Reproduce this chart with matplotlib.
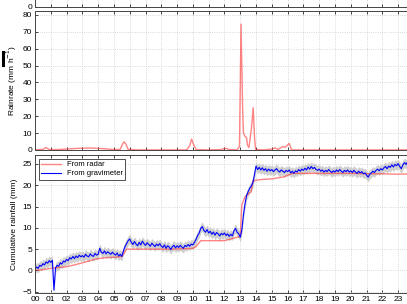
import matplotlib
matplotlib.use('Agg')
from matplotlib import pyplot as plt
from matplotlib.lines import Line2D
import numpy as np

plt.rcParams['font.family'] = ['Liberation Sans', 'DejaVu Sans']

# radar rain rate (mm/h)
rate_t = [0.0, 0.5, 0.7, 0.9, 1.5, 2.0, 2.5, 3.0, 3.5, 4.0, 4.5, 5.0, 5.4, 5.55, 5.65, 5.75, 5.9,
          6.5, 9.6, 9.8, 9.92, 10.05, 10.2, 11.0, 11.8, 12.05, 12.3, 12.8, 12.95, 13.05, 13.15,
          13.2, 13.3, 13.4, 13.45, 13.55, 13.7, 13.82, 13.9, 13.97, 14.5, 15.0, 15.2, 15.4, 15.7,
          15.85, 16.1, 16.25, 24.0]
rate_v = [0.0, 0.3, 1.4, 0.2, 0.2, 0.5, 0.8, 1.0, 1.1, 0.9, 0.6, 0.2, 0.3, 3.5, 4.8, 3.5, 0.3,
          0.0, 0.0, 2.5, 6.4, 3.0, 0.2, 0.0, 0.2, 1.0, 0.2, 0.0, 2.0, 74.6, 25.0,
          10.3, 8.0, 7.3, 3.0, 1.4, 12.0, 25.0, 8.0, 0.3, 0.0, 0.5, 1.2, 0.3, 2.0,
          1.5, 3.8, 0.0, 0.0]

# cumulative rainfall from radar (mm)
radar_t = [0.0, 0.5, 1.0, 1.5, 2.0, 2.5, 3.0, 3.5, 4.0, 4.5, 5.0, 5.5, 5.8, 6.5, 7.5, 8.5,
           9.5, 10.0, 10.2, 10.5, 11.5, 12.0, 12.5, 13.0, 13.1, 13.3, 13.7, 13.8, 14.0, 14.5,
           15.0, 15.8, 16.3, 17.0, 18.0, 19.0, 20.0, 21.0, 22.0, 23.0, 24.0]
radar_cum = [0.0, 0.2, 0.5, 0.7, 0.9, 1.3, 1.8, 2.3, 2.8, 3.0, 3.1, 3.3, 5.0, 5.0, 5.0, 5.0,
             5.1, 5.2, 5.6, 7.0, 7.0, 7.0, 7.5, 8.0, 15.4, 17.3, 18.5, 21.0, 21.2, 21.4,
             21.5, 22.0, 22.8, 22.8, 22.8, 22.8, 22.8, 22.7, 22.7, 22.6, 22.7]

# cumulative rainfall from gravimeter (mm), every 0.1 h
grav_cum = [
    0.3, 0.8, 0.5, 1.2, 1.0, 1.6, 1.3, 2.0, 1.7, 2.3,
    1.9, 2.4, -4.6, 0.6, 1.2, 1.0, 1.8, 1.5, 2.2, 2.0,
    2.6, 2.3, 3.0, 2.7, 3.3, 2.8, 3.4, 3.0, 3.6, 3.2,
    3.5, 3.1, 3.8, 3.4, 3.2, 3.9, 3.5, 3.3, 4.0, 3.6,
    3.8, 5.2, 4.3, 4.0, 4.6, 3.9, 4.4, 4.1, 3.8, 4.3,
    3.9, 3.6, 4.1, 3.4, 3.8, 3.3, 4.6, 5.6, 6.3, 7.0,
    7.4, 6.6, 6.1, 6.8, 6.2, 5.8, 6.6, 6.0, 6.9, 6.3,
    5.9, 6.5, 6.1, 5.7, 6.4, 6.0, 5.6, 6.2, 5.8, 6.3,
    5.7, 5.4, 6.0, 5.2, 5.8, 5.5, 4.9, 5.6, 5.9, 5.3,
    5.8, 5.4, 5.9, 5.5, 5.2, 5.9, 5.6, 6.1, 5.7, 6.2,
    6.0, 6.6, 7.3, 8.2, 8.8, 9.9, 10.3, 9.4, 9.0, 9.6,
    8.8, 9.2, 8.5, 9.0, 8.3, 8.9, 8.6, 8.1, 8.7, 8.4,
    8.8, 8.2, 8.6, 8.0, 8.5, 8.1, 9.3, 9.9, 9.0, 8.6,
    7.8, 9.5, 13.0, 15.6, 17.6, 18.5, 19.3, 19.8, 20.6, 22.5,
    24.5, 23.7, 24.2, 23.6, 24.1, 23.5, 23.9, 23.3, 23.8, 23.4,
    23.7, 23.2, 23.6, 23.9, 23.4, 23.1, 23.6, 23.3, 23.0, 23.5,
    23.2, 23.6, 22.9, 23.3, 22.8, 23.4, 23.1, 23.7, 23.3, 23.8,
    23.5, 24.0, 23.6, 24.3, 23.8, 24.4, 23.9, 24.2, 23.7, 23.5,
    23.8, 23.3, 23.6, 23.1, 23.5, 23.2, 23.7, 23.3, 23.0, 23.4,
    23.1, 23.6, 23.2, 23.7, 23.3, 23.0, 23.5, 23.2, 23.6, 23.1,
    23.4, 23.0, 23.5, 23.1, 22.8, 23.3, 22.9, 23.2, 22.7, 22.9,
    22.4, 21.9, 22.6, 22.9, 23.3, 23.0, 23.5, 23.8, 23.4, 23.9,
    23.6, 24.1, 24.4, 23.9, 24.5, 24.2, 24.8, 24.3, 24.9, 24.6,
    25.1, 24.4, 23.9, 24.8, 25.3, 24.9, 25.5, 25.0, 25.6, 25.2,
    25.4]
grav_t = np.arange(len(grav_cum)) * 0.1
grav_err = 1.1

hour_labels = ['%02d' % h for h in range(24)]

fig = plt.figure(figsize=(4.07, 3.04), dpi=100)

def style(ax):
    ax.set_xlim(0, 24)
    ax.set_xticks(range(24))
    ax.grid(True, color='#cccccc', linestyle=':', linewidth=0.6)
    ax.tick_params(direction='in', top=True, right=True, length=2.5, width=0.5,
                   labelsize=6, pad=2)
    for s in ax.spines.values():
        s.set_linewidth(0.7)
        s.set_color('#444444')

# sliver of the panel above
ax0 = fig.add_axes([0.086, 0.978, 0.931, 0.2])
style(ax0)
ax0.set_ylim(0, 10)
ax0.set_yticks([0])
ax0.set_xticklabels([])

ax1 = fig.add_axes([0.086, 0.507, 0.931, 0.457])
style(ax1)
ax1.plot(rate_t, rate_v, color='#ff3333', alpha=0.6, lw=1.0)
ax1.set_ylim(0, 82.4)
ax1.set_yticks(range(0, 81, 10))
ax1.set_xticklabels([])
ax1.set_ylabel('Rainrate (mm h$^{-1}$)', fontsize=6, labelpad=3)

ax2 = fig.add_axes([0.086, 0.036, 0.931, 0.454])
style(ax2)
ax2.fill_between(grav_t, np.array(grav_cum) - grav_err, np.array(grav_cum) + grav_err,
                 color='#888888', alpha=0.4, lw=0)
ax2.plot(radar_t, radar_cum, color='#ff3333', alpha=0.6, lw=1.0, label='From radar')
ax2.plot(grav_t, grav_cum, color='#0000ff', lw=0.8, label='From gravimeter')
ax2.set_ylim(-5.3, 27.1)
ax2.set_yticks(range(-5, 26, 5))
ax2.set_xticklabels(hour_labels)
ax2.set_ylabel('Cumulative rainfall (mm)', fontsize=6, labelpad=3)
leg = ax2.legend(loc='upper left', fontsize=5.5, fancybox=False, framealpha=1,
                 edgecolor='#333333', handlelength=2.6, borderpad=0.3, labelspacing=0.2,
                 bbox_to_anchor=(0.0, 1.0))
leg.get_frame().set_linewidth(0.6)

fig.add_artist(Line2D([0.007, 0.007], [0.785, 0.828], lw=2.2, color='k'))

fig.savefig('out.png', dpi=100)
